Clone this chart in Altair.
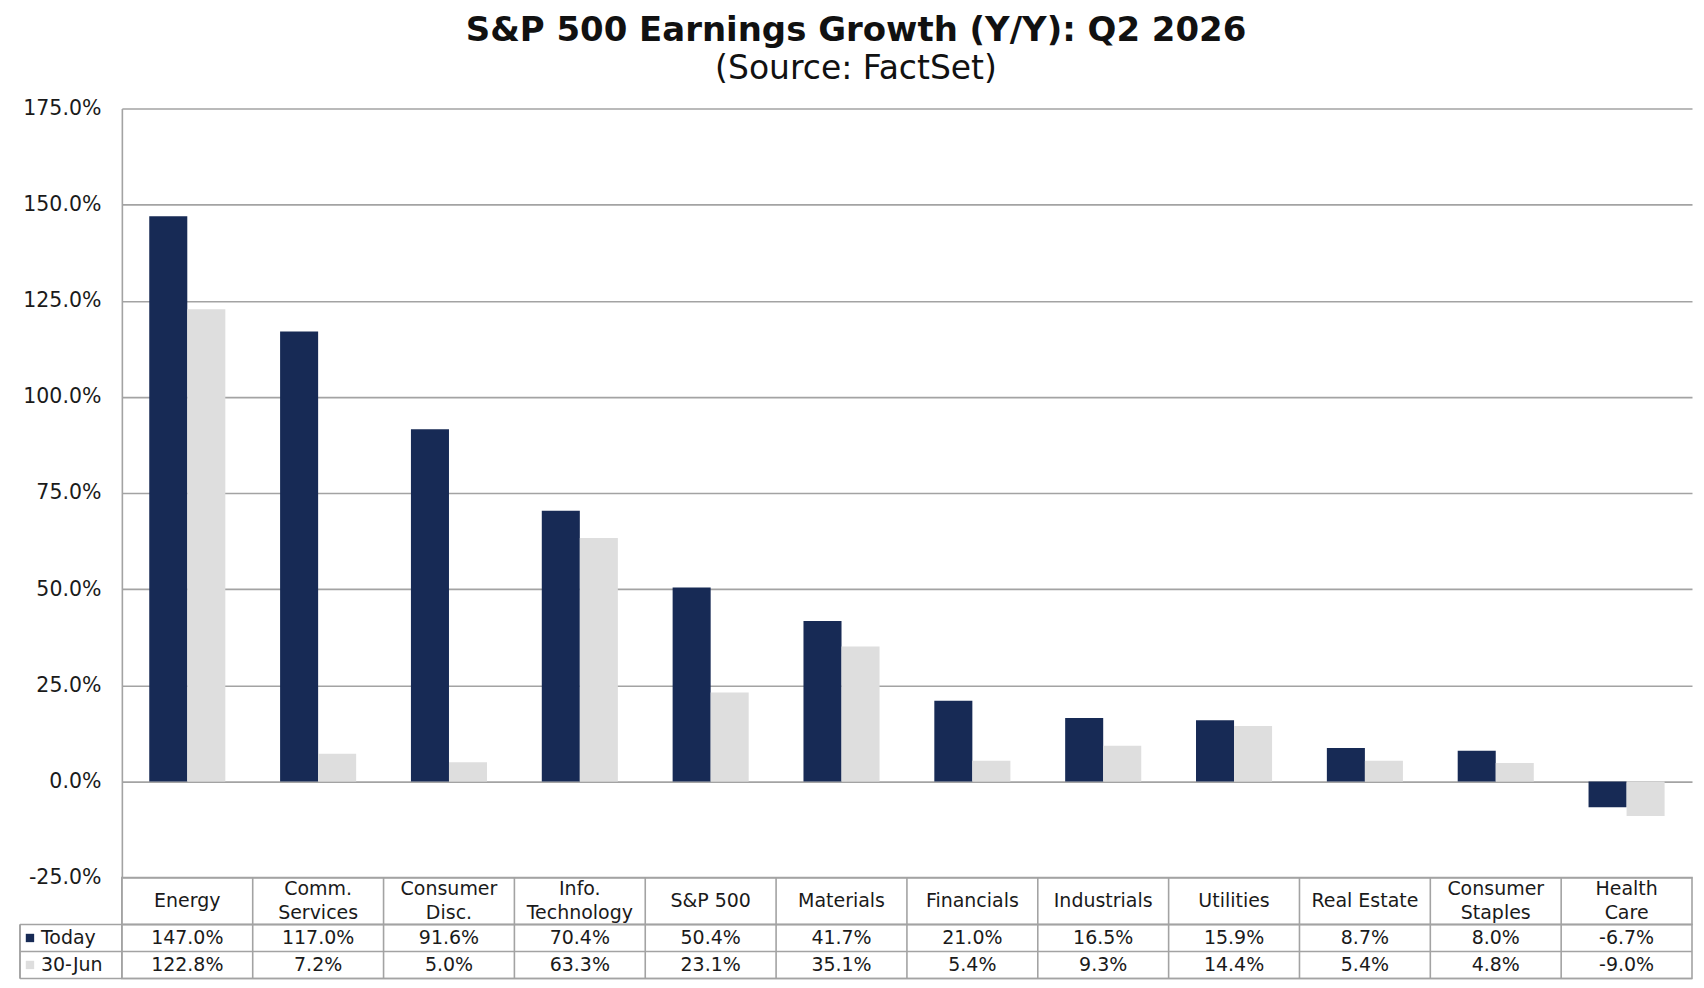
import altair as alt
import pandas as pd

# ---- data ----
categories = ["Energy", "Comm.\nServices", "Consumer\nDisc.", "Info.\nTechnology", "S&P 500",
              "Materials", "Financials", "Industrials", "Utilities", "Real Estate",
              "Consumer\nStaples", "Health\nCare"]
today = [147.0, 117.0, 91.6, 70.4, 50.4, 41.7, 21.0, 16.5, 15.9, 8.7, 8.0, -6.7]
jun30 = [122.8, 7.2, 5.0, 63.3, 23.1, 35.1, 5.4, 9.3, 14.4, 5.4, 4.8, -9.0]
series = ["Today", "30-Jun"]
series_colors = ["#172a55", "#dedede"]
y_ticks = [-25, 0, 25, 50, 75, 100, 125, 150, 175]
line_slots = ["top", "mid", "bot"]

rows = []
for c, a, b in zip(categories, today, jun30):
    rows.append({"cat": c, "series": series[0], "value": a})
    rows.append({"cat": c, "series": series[1], "value": b})
df = pd.DataFrame(rows)

hdr_rows = []
for c in categories:
    parts = c.split("\n")
    slots = ["mid"] if len(parts) == 1 else ["top", "bot"]
    for p, s in zip(parts, slots):
        hdr_rows.append({"cat": c, "line": p, "slot": s})
hdr_df = pd.DataFrame(hdr_rows)
cat_df = pd.DataFrame({"cat": categories})
ser_df = pd.DataFrame({"series": series})
last_ser_df = pd.DataFrame({"series": [series[-1]]})

W = 1572
FONT = "DejaVu Sans"
GRID = "#a3a3a3"
TXT = "#1a1a1a"
PCT = "replace(format(datum.value, '.1f'), '\u2212', '-') + '%'"

xscale = alt.Scale(domain=categories, paddingInner=0, paddingOuter=0)
cscale = alt.Scale(domain=series, range=series_colors)
rscale = alt.Scale(domain=series, paddingInner=0, paddingOuter=0)

# ---- bars ----
bars = alt.Chart(df).mark_bar().encode(
    x=alt.X("cat:N", sort=categories, scale=xscale, axis=None),
    xOffset=alt.XOffset("series:N", sort=series,
                        scale=alt.Scale(domain=series, paddingInner=0, paddingOuter=0.72)),
    y=alt.Y("value:Q",
            scale=alt.Scale(domain=[-25, 175], nice=False, zero=False),
            axis=alt.Axis(values=y_ticks, title=None, labelExpr=PCT,
                          grid=True, gridColor=GRID, gridWidth=1.6,
                          domain=True, domainColor=GRID, domainWidth=1.6,
                          ticks=False, labelPadding=21,
                          labelFont=FONT, labelFontSize=20.5, labelColor=TXT)),
    color=alt.Color("series:N", scale=cscale, legend=None),
).properties(width=W, height=770, view=alt.ViewBackground(stroke=None))

# ---- header row of the data table ----
hdr_text = alt.Chart(hdr_df).mark_text(font=FONT, fontSize=19, color=TXT).encode(
    x=alt.X("cat:N", sort=categories, scale=xscale, axis=None),
    y=alt.Y("slot:N", sort=line_slots,
            scale=alt.Scale(type="point", domain=line_slots, padding=1.24), axis=None),
    text="line:N",
)
hdr_div = alt.Chart(cat_df).mark_rule(color=GRID, strokeWidth=1.6).encode(
    x=alt.X("cat:N", sort=categories, scale=xscale, axis=None, bandPosition=0),
)
header = alt.layer(hdr_div, hdr_text).properties(
    width=W, height=47, view=alt.ViewBackground(stroke=GRID, strokeWidth=1.6))

# ---- value rows of the data table ----
yrow = alt.Y("series:N", sort=series, scale=rscale, axis=None)
val_text = alt.Chart(df).transform_calculate(
    label=PCT
).mark_text(font=FONT, fontSize=19, color=TXT).encode(
    x=alt.X("cat:N", sort=categories, scale=xscale, axis=None),
    y=yrow,
    text="label:N",
)
val_div = alt.Chart(cat_df).mark_rule(color=GRID, strokeWidth=1.6).encode(
    x=alt.X("cat:N", sort=categories, scale=xscale, axis=None, bandPosition=0),
)
row_lines = alt.Chart(ser_df).mark_rule(color=GRID, strokeWidth=1.6).encode(
    x=alt.value(-102), x2=alt.value(W),
    y=alt.Y("series:N", sort=series, scale=rscale, axis=None, bandPosition=0),
)
row_bottom = alt.Chart(last_ser_df).mark_rule(color=GRID, strokeWidth=1.6).encode(
    x=alt.value(-102), x2=alt.value(W),
    y=alt.Y("series:N", sort=series, scale=rscale, axis=None, bandPosition=1),
)
left_border = alt.Chart(ser_df).mark_rule(color=GRID, strokeWidth=1.6).encode(
    x=alt.value(-102), y=alt.value(0), y2=alt.value(54),
)
keys = alt.Chart(ser_df).mark_point(shape="square", filled=True, size=70, opacity=1).encode(
    x=alt.value(-92), y=yrow,
    color=alt.Color("series:N", scale=cscale, legend=None),
)
key_text = alt.Chart(ser_df).mark_text(font=FONT, fontSize=19, align="left", color=TXT).encode(
    x=alt.value(-81), y=yrow, text="series:N",
)
values = alt.layer(val_div, row_lines, row_bottom, left_border, keys, key_text, val_text).properties(
    width=W, height=54, view=alt.ViewBackground(stroke=GRID, strokeWidth=1.6))

chart = alt.vconcat(bars, header, values, spacing=0, bounds="flush").properties(
    title=alt.TitleParams(
        text="S&P 500 Earnings Growth (Y/Y): Q2 2026",
        subtitle="(Source: FactSet)",
        font=FONT, fontSize=34, fontWeight="bold", color="#111111",
        subtitleFont=FONT, subtitleFontSize=33, subtitleColor="#111111",
        subtitlePadding=6, anchor="middle", offset=12,
    ),
    padding={"left": 10, "top": 5, "right": 2, "bottom": 2},
    background="white",
).configure_view(stroke=None)

chart.save("out.html", embed_options={"renderer": "svg", "actions": False})
